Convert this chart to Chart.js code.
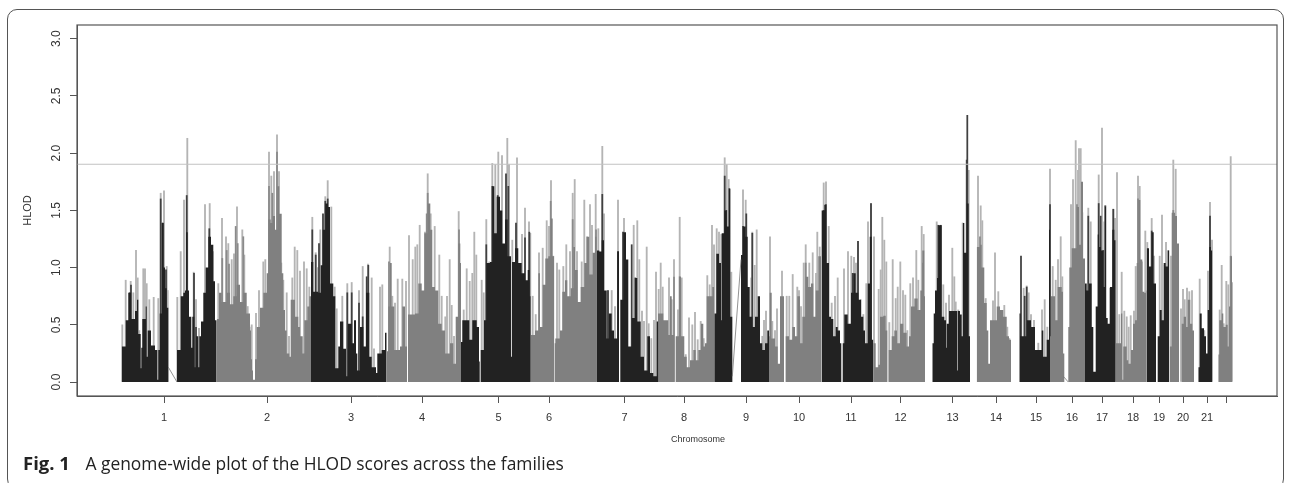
<!DOCTYPE html>
<html>
<head>
<meta charset="utf-8">
<title>HLOD scores</title>
<script src="https://cdn.jsdelivr.net/npm/chart.js@4.4.0/dist/chart.umd.min.js"></script>
<style>
	html, body { margin: 0; padding: 0; background: #fff; }
	.figure { position: relative; width: 1292px; height: 483px; overflow: hidden; }
	.frame { position: absolute; left: 7px; top: 9px; width: 1277px; height: 480px; border: 1px solid #555; border-radius: 10px; box-sizing: border-box; }
	#hlod-chart { position: absolute; left: 0; top: 0; filter: blur(0.35px); }
	.caption { position: absolute; left: 23px; top: 450px; font-family: 'Open Sans', sans-serif; font-size: 17.4px; color: #222; white-space: nowrap; }
	.caption b { margin-right: 11px; font-size: 18.5px; }
</style>
</head>
<body>
<div class="figure">
	<div class="frame"></div>
	<canvas id="hlod-chart" width="1292" height="483"></canvas>
	<div class="caption"><b>Fig. 1</b> A genome-wide plot of the HLOD scores across the families</div>
</div>
<script>
const chromLabels = ['1','2','3','4','5','6','7','8','9','10','11','12','13','14','15','16','17','18','19','20','21',''];
const chromTicks = [87,190,274,345,421.5,472,547.5,607,669,722,774,823.5,875.5,919,959,995,1025,1056,1082,1106,1130,1149];
const hlodTicks = [0,0.5,1,1.5,2,2.5,3];
const threshold = 1.903;
const gapLinks = [
	[[91.3,0.13],[100,0]],
	[[655.3,0.05],[664,1.07]],
	[[986.3,0.05],[991.3,0]]
];

// each row is [position, HLOD]: core holds its value until the next row
const chr1Core = [[44.7,.31],[48.7,.54],[51.3,.78],[53.3,.85],[54.7,.55],[58,.62],[60,.72],[61.3,.42],[63.7,.12],[64.3,.3],[65.3,.55],[68.7,.66],[69.7,.22],[70.7,.45],[74,.32],[78,.28],[80.3,.02],[81.3,.28],[82.7,.6],[84.7,1.39],[86.7,1],[88,.82],[89.7,.65],[91.3,0],[100,.28],[103.7,.75],[106.3,.78],[108,.8],[109,1.31],[110.7,.8],[112,.57],[114.3,.3],[115.3,.57],[117.3,.13],[118.3,.48],[119.7,.4],[121.3,.13],[122.3,.4],[124,.53],[126.3,.78],[128.7,1],[131.3,1.27],[134,1.2],[136.3,.88],[138,.54],[139.7,0]];
const chr1Dark = [[83.7,1.6],[85.7,1.39],[109.7,1.63],[117,.95],[132.3,1.34],[89,.98],[52.7,.78]];
const chr1Light = [[45.3,.5],[48.7,.89],[53.7,.88],[56.3,.78],[59,1.15],[60.7,.91],[62.3,.45],[66.3,.99],[68,.99],[69.7,.86],[72.3,.72],[76.7,.74],[81.3,.73],[83.7,1.65],[87,1.67],[89.7,1.01],[90.7,.8],[100.3,.74],[103.7,1.14],[107,1.59],[110.3,2.13],[116.7,.96],[119,.72],[122,.47],[128,1.55],[132.7,1.56],[136,1.14]];

const chr2Core = [[139.7,.55],[142,.78],[144.7,.7],[149.7,.78],[153,.68],[156.3,.75],[159.7,.85],[163,.7],[166.3,.78],[169.7,.6],[173,.45],[174,.2],[175,.1],[176,.02],[178,.2],[179.7,.48],[183,.65],[186.3,.78],[189.7,.95],[191.3,1.42],[193.7,1.39],[195.7,1.45],[198,1.33],[200.3,1.71],[202.3,1.47],[204.7,.95],[206.3,.63],[208,.45],[209.7,.25],[212.3,.22],[213.7,.72],[216.3,.72],[218,.57],[221.3,.48],[223,.4],[225.7,.25],[227.3,.54],[230.3,.66],[232.3,.75],[234,0]];
const chr2Dark = [[145.3,1.08],[149.7,1.15],[152,1.03],[158.7,1.36],[160.7,1.21],[166.3,1.27],[192,1.71],[195.3,1.65],[200,2.01]];
const chr2Light = [[141.3,.86],[145,1.43],[149,1.27],[151.3,1.21],[154.7,1.07],[157,1.12],[160,1.53],[165.3,1.33],[167.3,1.11],[170.7,.66],[172.7,.48],[174.7,.5],[179,.6],[182,.8],[186.3,1.05],[188.3,1.07],[192,2.01],[194.3,1.8],[197,1.84],[200,2.16],[202,1.84],[204.3,1.04],[206.3,.89],[209.7,.78],[212,.4],[215.3,.91],[217.7,1.18],[220.3,1.15],[223,.97],[227,1.05],[229.7,.99],[232.3,.83]];

const chr3Core = [[234,1.05],[236.3,.79],[241.3,.78],[243.7,1.02],[245.7,1.33],[248.3,1.56],[251,1.53],[253,.86],[256.3,.75],[258.3,.12],[261.3,.31],[263,.53],[266.3,.29],[269,.05],[271,.51],[274.7,.34],[277,.54],[279,.25],[280.3,.1],[283,.48],[286.3,.31],[289,.78],[292.3,.22],[294.7,.13],[299,.08],[300.3,.25],[304.7,.28],[308,.43],[309.7,0]];
const chr3Dark = [[235.3,1.33],[238.7,1.11],[242,1.21],[246,1.47],[248.3,1.58],[250.7,1.6],[270.3,.78],[274.7,.78],[289.7,.92],[291.3,1.02],[282,.69],[285.7,.57]];
const chr3Light = [[235.3,1.44],[238.7,1.13],[241,1],[243.3,1.33],[248.3,1.62],[250.7,1.76],[254.3,1.53],[257.7,.83],[259.7,.64],[265.3,.75],[270.3,.86],[274.7,.87],[282,.8],[285.7,1.01],[291,1.03],[294.7,.91],[297,.29],[303,.83],[305.3,.85]];

const chr4Core = [[310,.27],[311.3,.66],[313,1.04],[314.7,.66],[317.3,.28],[323,.31],[325.3,.66],[328,.31],[330,0],[331,.59],[338,.6],[341.3,.86],[344.7,.8],[347.3,1.3],[350.7,1.56],[353.3,1.33],[355.3,.83],[358,.8],[361.3,.51],[364.7,.45],[368,.25],[373,.34],[376.3,.16],[378.7,.57],[381.3,1.21],[383.3,1.04],[384,0]];
const chr4Dark = [[350.7,1.65],[312,1.05],[349.7,1.47],[382,1.33]];
const chr4Light = [[312.7,1.18],[315.3,.75],[318,.69],[320.7,.9],[325.3,.9],[329,.88],[332,1.28],[335.7,1.07],[338.3,1.18],[340.3,1.2],[342.7,1.37],[348,1.31],[350.7,1.82],[353.7,1.47],[357.7,1.36],[362.3,1.11],[364.7,.75],[368.3,.57],[370,.75],[372.7,1.07],[374.7,.67],[377,.4],[381.7,1.49]];

const chr5Core = [[384,.35],[385.3,.54],[389.7,.54],[392.3,.37],[395.3,.54],[399.7,.48],[402,.18],[402.7,0],[403.7,.28],[407,.54],[409.3,1.04],[413,1.05],[415.3,1.71],[417.3,1.3],[419.7,1.62],[423,1.5],[425.3,1.21],[428,1.42],[430.7,1.1],[434,.22],[435,1.05],[438,1.17],[441.3,1.04],[444.7,.95],[448,.89],[450.7,.98],[452.7,.75],[453.7,0]];
const chr5Dark = [[415.3,1.71],[409.3,1.2],[420.7,1.63],[423.7,1.47],[429,1.82],[431.3,1.71],[439,1.39],[448,1.26],[452.3,1.31]];
const chr5Light = [[386.7,.63],[389.7,.99],[392.7,.88],[395.3,.95],[397.3,1.31],[399.3,1.11],[404.7,.89],[406.7,.78],[409.3,1.42],[412.3,1.05],[415.3,1.91],[418.3,1.9],[421.3,2.01],[425,1.98],[430.3,2.13],[432,1.9],[435.3,1.24],[440,1.96],[445,1.29],[448,1.52],[452,1.4],[453.3,1.3]];

const chr6Core = [[454,.41],[458,.45],[461.3,.95],[463,.48],[465.7,.85],[468.3,1.08],[471.3,1.1],[473.7,1.43],[475.7,1.1],[477,0],[477.7,.34],[478.3,.38],[483,.45],[485.3,.79],[488,.89],[490.3,.75],[493.7,.82],[496.3,1.18],[498,.98],[500.7,.7],[503.7,.83],[507.3,1.04],[509.7,1.27],[512.3,.94],[515.7,1.13],[518,1.27],[519.7,0]];
const chr6Dark = [[473.7,1.58],[495.7,1.42],[519,1.33]];
const chr6Light = [[455.7,.75],[458.7,.59],[462,1.13],[465.7,1.17],[469.7,1.41],[472,1.36],[474,1.76],[476.3,1.1],[480,1.04],[482.3,.98],[486.3,1.01],[489.3,1.2],[493,1.14],[495.7,1.65],[497.7,1.77],[500,1.14],[504.7,1.05],[507.3,1.59],[510,1.27],[513,1.55],[515,1.37],[518.7,1.64]];

const chr7Core = [[519.7,1.15],[522.3,1.14],[524.7,1.24],[527,.8],[529.7,.38],[531.7,.6],[534.7,.45],[537,.38],[540.3,1.14],[542,0],[543.3,.72],[546.3,1.31],[549,1.07],[551.3,.31],[554.7,.56],[558,.91],[560.3,.53],[563.7,.22],[567,.1],[570.3,.4],[573,.08],[576.3,.05],[579.7,.53],[581.3,0]];
const chr7Dark = [[525.3,1.64],[546,1.31],[554.7,1.2],[558.3,.91],[541,1.14],[531,.8]];
const chr7Light = [[521.3,1.34],[525.3,2.06],[527,1.47],[530.7,.8],[534.7,.8],[538,.66],[541,1.59],[547,1.43],[549.7,.7],[556.7,1.37],[560.3,1.41],[562.3,1.07],[565,.62],[567,.53],[569.7,1.18],[571.7,.51],[574.3,.38],[577,.54],[579,.96]];

const chr8Core = [[581,.6],[583,.6],[586.3,.54],[588.7,.54],[591.3,.41],[593,.75],[594.7,.41],[596.3,.92],[597.7,0],[598.7,.4],[602,.92],[604,.4],[607.3,.22],[609.7,.13],[613,.19],[616.3,.28],[618.7,.19],[621.3,.28],[624,.51],[626.3,.31],[628,.34],[629.7,.75],[633,.75],[635.3,.83],[637.3,0]];
const chr8Dark = [[602.7,.92]];
const chr8Light = [[581.7,.81],[583.7,1.04],[585.7,.83],[588,.53],[592,.91],[594.7,.72],[597,1.07],[601,.63],[602.7,1.44],[604.7,.91],[608.7,.24],[612,.56],[615.3,.5],[618,.61],[620.7,.37],[623.7,.53],[626.7,.38],[630.3,.93],[632.7,.85],[635,1.37],[637,1.2]];

const chr9Core = [[637.3,.6],[639.3,1.12],[642,1.04],[644,.54],[644.7,1.3],[647.3,1.5],[649.7,1.36],[652,1.69],[653.3,.57],[655.3,0],[664,1.11],[666,1.36],[668.7,1.27],[670.7,.83],[672.7,.57],[675.3,.48],[678,.57],[680.7,.75],[683,.34],[685.3,.28],[688,.34],[690.3,.45],[692,0]];
const chr9Dark = [[647.7,1.8],[652.3,1.69],[649.3,1.5],[675.3,1.3],[666,1.36],[669.3,1.47]];
const chr9Light = [[639.7,1.34],[642,1.31],[644.3,1.29],[647.7,1.96],[649.7,1.9],[651.7,1.77],[654.3,.96],[666,1.68],[668.7,1.59],[674.3,.91],[675.3,1.31],[677.7,1.02],[679.7,1.33],[682,.73],[685.3,.4],[687,.54],[689,.62]];

const chr10Core = [[691.3,.4],[692.7,.78],[694.7,.38],[698,.31],[700.7,.16],[703,.75],[705.3,.75],[707,0],[708.7,.4],[712,.37],[715.3,.48],[718,.4],[720.3,.75],[723,.34],[725.3,.57],[728.7,.92],[731.3,.83],[734,.86],[736.3,.57],[738.7,.8],[741.3,1.1],[744,1.5],[744.7,0]];
const chr10Dark = [[728.7,1.04]];
const chr10Light = [[693,1.27],[695.3,.53],[698,.45],[700,.64],[705,.97],[709.7,.75],[712.3,.75],[715.7,.94],[720.3,.83],[722,.8],[724,.66],[726.7,1.04],[728.7,1.2],[732.3,1.04],[735.7,1.13],[739,.95],[740.3,1.31],[742.7,1.18]];

const chr11Core = [[744.7,1.5],[747.3,1.55],[749,1.04],[752,.57],[754,.55],[756.3,.4],[758.7,.48],[760.7,.45],[763,.34],[764.3,0],[765.7,.34],[767.3,.59],[770.7,.51],[774,.78],[776.3,.95],[778.7,.78],[781.3,.72],[784,.57],[786.3,.45],[788,.34],[790.7,.86],[792.7,1.27],[794.7,.37],[796.3,0]];
const chr11Dark = [[746.7,1.5],[749,1.55],[781,1.23],[794,1.56],[775.7,.95]];
const chr11Light = [[746.7,1.74],[749,1.75],[751.7,1.36],[754.7,.69],[758,.75],[760.7,.91],[767,.99],[771,1.14],[774.3,1.1],[777,1.09],[779,1.04],[781,1.23],[783.7,.72],[786.3,.59],[789.3,.86],[791,1.4],[794,1.56],[797,1.27]];

const chr12Core = [[796.3,.34],[798.7,.13],[801.3,.15],[803,.57],[806.3,.58],[808.7,.45],[810.3,0],[811.7,.28],[814.7,.4],[817.3,.45],[820,.34],[823,.51],[826.3,.43],[829.7,.31],[832,.4],[834,.66],[837.3,.73],[840.7,.63],[843.3,.8],[845.3,1.15],[847.3,.75],[848,0]];
const chr12Dark = [[846,1.04]];
const chr12Light = [[801.7,.81],[803.7,.98],[805.3,1.44],[807.3,1.24],[809.3,1.05],[812.3,.52],[815.7,1.07],[818.7,.73],[820.7,.83],[823.3,1.05],[826,.8],[828.3,.76],[830.3,.45],[833.3,.86],[836,.91],[839.3,1.15],[841.3,.89],[844.7,1.36],[846.7,1.29]];

const chr13Core = [[855.3,.34],[856.7,.6],[858,.8],[860,.91],[861.3,1.37],[864.7,.57],[867.3,.54],[869,.3],[869.7,.51],[872,.62],[880,.1],[880.7,.62],[883,.59],[884.7,.4],[886,1.39],[887.3,1.13],[889.7,1.56],[891.7,.4],[893,0]];
const chr13Dark = [[863.7,1.37],[861.3,1.37],[890.3,2.33],[889.7,1.94]];
const chr13Light = [[859.7,1.4],[862,1.15],[866.3,.85],[869,.69],[872,.76],[875.3,1.17],[877.3,.92],[878.7,.7],[881.3,.63],[885.7,1.39],[891.7,1.85]];

const chr14Core = [[899.7,1.18],[903,1.2],[904.7,1],[907.3,.69],[909.7,.45],[911.3,.16],[913,.54],[916.3,.54],[919.7,.66],[923,.63],[926.3,.57],[929.7,.4],[932,.37],[934,0]];
const chr14Dark = [[903,1.27]];
const chr14Light = [[901,1.8],[903.7,1.54],[905.3,1.41],[908.7,.73],[916,.71],[918,1.13],[921.3,.79],[924,.59],[927.3,.67],[930.3,.48],[932.3,.38]];

const chr15Core = [[942.3,.6],[943.7,.4],[948,.4],[949.7,.54],[954,.48],[956.3,.48],[958,.28],[963,.28],[964.7,.45],[966.3,.22],[969.7,.37],[972,1.33],[973,0]];
const chr15Dark = [[944,1.1],[973,1.55],[947.7,.75],[949.7,.83]];
const chr15Light = [[946.7,.82],[949.7,.84],[951.7,.78],[954,.59],[957,.54],[961.3,.34],[965,.63],[967.7,.72],[970.3,.48],[973,1.86]];

const chr16Core = [[973,.4],[974,.75],[976.3,.75],[978,.54],[980.7,.83],[984.7,.79],[986,.25],[987.3,0],[991.3,.48],[992.3,1],[994.7,1.17],[997.3,1.17],[999.7,1.53],[1002,1.2],[1004,1.75],[1006,1.08],[1008,0]];
const chr16Dark = [[1000,1.55]];
const chr16Light = [[975.7,1.01],[978.7,.89],[981,1.07],[983.7,1.27],[985.3,.92],[994,1.55],[996,1.77],[998.7,2.11],[1001,1.85],[1002,2.04],[1003.7,2.04],[1005.3,1.48]];

const chr17Core = [[1008,.86],[1009.7,.8],[1012,.86],[1014.7,.48],[1016.3,.09],[1018.7,.66],[1020.7,1.29],[1022,1.18],[1024,1.15],[1026.3,.83],[1028,1.53],[1029,.56],[1030.7,.51],[1033,.83],[1035.3,1.33],[1037.3,1.24],[1038.7,0]];
const chr17Dark = [[1021.7,1.56],[1023.7,1.45],[1026.3,1.15],[1028.3,1.54],[1036.3,1.51],[1011.3,1.45]];
const chr17Light = [[1011.3,1.52],[1013.7,1.4],[1021.7,1.81],[1025,2.22],[1027.3,1.4],[1028.3,1.54],[1033,.82],[1036.3,1.51],[1038,1.43]];

const chr18Core = [[1039,.34],[1041.3,.34],[1044,.6],[1045.3,.02],[1046.3,.31],[1049.7,.19],[1051.3,.16],[1054,.28],[1056,.51],[1058,.54],[1059.7,1.04],[1061.3,1.59],[1063.3,1.07],[1065.3,.79],[1067.3,.78],[1069,.8],[1069.7,0]];
const chr18Dark = [[1061,1.6]];
const chr18Light = [[1040,1.83],[1042.3,.59],[1044.7,.96],[1047.3,.62],[1049.7,.57],[1051.7,.48],[1053.7,.58],[1057,.62],[1058.7,1.01],[1061,1.8],[1062.7,1.71],[1065,1.05],[1068.3,1.32]];

const chr19Core = [[1069.7,1.17],[1072,1.01],[1074.7,1.31],[1076.7,.86],[1079,0],[1080.7,.4],[1082.7,.63],[1084.7,.54],[1086.7,1.04],[1088.7,1.01],[1090.7,1.15],[1092.3,0]];
const chr19Dark = [[1074.7,1.32]];
const chr19Light = [[1070.3,1.22],[1074.7,1.43],[1077,1.1],[1082.7,1.1],[1085,1.46],[1087.7,1.02],[1089,1.22],[1091.3,1.15]];

const chr20Core = [[1092.7,.31],[1094.7,1.48],[1098,1.45],[1100,1.21],[1102,0],[1104.7,.51],[1106.7,.57],[1109,.48],[1110.7,.72],[1113.3,.51],[1115.3,.45],[1117,0]];
const chr20Dark = [[1096.3,1.5]];
const chr20Light = [[1094,1.1],[1096.3,1.94],[1098.7,1.86],[1104,.64],[1106,.81],[1107.7,.72],[1110,.82],[1112.3,.79],[1115,.8]];

const chr21Core = [[1121.3,.13],[1122.7,.6],[1124.7,.47],[1127,.4],[1129,.25],[1130.7,.63],[1132.3,1.18],[1134,1.15],[1135.3,0]];
const chr21Dark = [[1133,1.45]];
const chr21Light = [[1122.7,.9],[1127.3,.45],[1131,.97],[1133,1.57],[1135,1.24]];

const chr22Core = [[1141.3,.24],[1142.3,.54],[1144.7,.6],[1146.3,.48],[1148.7,.5],[1150.7,.31],[1152,.66],[1153.7,1.1],[1155,0]];
const chr22Dark = [[1153.7,1.1]];
const chr22Light = [[1142.7,.63],[1144.7,1.02],[1146.7,.51],[1149.3,.88],[1151.3,.85],[1153.7,1.97],[1155,.87]];

const coreByChrom = [chr1Core,chr2Core,chr3Core,chr4Core,chr5Core,chr6Core,chr7Core,chr8Core,chr9Core,chr10Core,chr11Core,chr12Core,chr13Core,chr14Core,chr15Core,chr16Core,chr17Core,chr18Core,chr19Core,chr20Core,chr21Core,chr22Core];
const darkByChrom = [chr1Dark,chr2Dark,chr3Dark,chr4Dark,chr5Dark,chr6Dark,chr7Dark,chr8Dark,chr9Dark,chr10Dark,chr11Dark,chr12Dark,chr13Dark,chr14Dark,chr15Dark,chr16Dark,chr17Dark,chr18Dark,chr19Dark,chr20Dark,chr21Dark,chr22Dark];
const lightByChrom = [chr1Light,chr2Light,chr3Light,chr4Light,chr5Light,chr6Light,chr7Light,chr8Light,chr9Light,chr10Light,chr11Light,chr12Light,chr13Light,chr14Light,chr15Light,chr16Light,chr17Light,chr18Light,chr19Light,chr20Light,chr21Light,chr22Light];

const toXY = rows => rows.map(r => ({ x: r[0], y: r[1] }));
const datasets = [];

// the first datasets end up on top
datasets.push({
	type: 'line', data: [{ x: 0, y: threshold }, { x: 1200, y: threshold }],
	borderColor: '#c2c2c2', borderWidth: 1.2, pointRadius: 0, order: 0
});
gapLinks.forEach(link => datasets.push({
	type: 'line', data: toXY(link), borderColor: '#777', borderWidth: 0.8, pointRadius: 0, order: 1
}));
coreByChrom.forEach((rows, i) => datasets.push({
	type: 'line', data: toXY(rows), stepped: 'before', fill: 'origin', borderWidth: 0, pointRadius: 0,
	borderColor: 'transparent', backgroundColor: i % 2 ? '#808080' : '#222222', order: 2
}));
darkByChrom.forEach((rows, i) => datasets.push({
	type: 'bar', data: toXY(rows), barThickness: 1.1, grouped: false,
	backgroundColor: i % 2 ? '#8a8a8a' : '#404040', order: 3
}));
lightByChrom.forEach(rows => datasets.push({
	type: 'bar', data: toXY(rows), barThickness: 1.2, grouped: false,
	backgroundColor: '#b4b4b4', order: 4
}));

// R style box, upright y labels and the offset x title
const plotFurniture = {
	id: 'plotFurniture',
	afterDraw(chart) {
		const { ctx, chartArea, scales } = chart;
		ctx.save();
		ctx.strokeStyle = '#555';
		ctx.lineWidth = 1.2;
		ctx.strokeRect(chartArea.left, chartArea.top, chartArea.right - chartArea.left, chartArea.bottom - chartArea.top);
		ctx.fillStyle = '#333';
		ctx.font = "12px 'Liberation Sans', sans-serif";
		ctx.textAlign = 'center';
		ctx.textBaseline = 'middle';
		hlodTicks.forEach(v => {
			ctx.save();
			ctx.translate(56.5, scales.y.getPixelForValue(v));
			ctx.rotate(-Math.PI / 2);
			ctx.fillText(v.toFixed(1), 0, 0);
			ctx.restore();
		});
		ctx.font = "9px 'Liberation Sans', sans-serif";
		ctx.fillText('Chromosome', 698, 440);
		ctx.restore();
	}
};

new Chart(document.getElementById('hlod-chart'), {
	type: 'bar',
	data: { datasets: datasets },
	plugins: [plotFurniture],
	options: {
		responsive: false,
		animation: false,
		layout: { padding: { top: 25, right: 15, left: 0, bottom: 0 } },
		plugins: { legend: { display: false }, tooltip: { enabled: false } },
		scales: {
			x: {
				type: 'linear', min: 0, max: 1200, offset: false,
				afterBuildTicks: s => { s.ticks = chromTicks.map(v => ({ value: v })); },
				afterFit: s => { s.height = 87; },
				grid: { offset: false, drawOnChartArea: false, color: '#555', tickLength: 7 },
				border: { color: '#555' },
				ticks: {
					autoSkip: false, maxRotation: 0, minRotation: 0, padding: 8, color: '#333',
					font: { family: "'Liberation Sans', sans-serif", size: 11 },
					callback: (v, i) => chromLabels[i]
				}
			},
			y: {
				min: -0.122, max: 3.12,
				afterBuildTicks: s => { s.ticks = hlodTicks.map(v => ({ value: v })); },
				afterFit: s => { s.width = 77; },
				grid: { drawOnChartArea: false, color: '#555', tickLength: 7 },
				border: { color: '#555' },
				ticks: { display: false },
				title: {
					display: true, text: 'HLOD', color: '#333',
					font: { family: "'Liberation Sans', sans-serif", size: 11 },
					padding: { top: 21, bottom: 0 }
				}
			}
		}
	}
});
</script>
</body>
</html>
